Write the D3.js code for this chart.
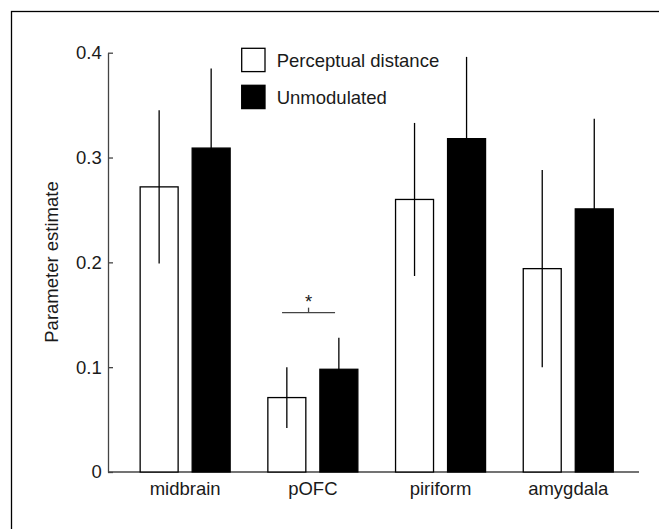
<!DOCTYPE html>
<html>
<head>
<meta charset="utf-8">
<script src="https://cdn.jsdelivr.net/npm/d3@7"></script>
<style>
  body{margin:0;background:#fff}
  text{font-family:"Liberation Sans",Arial,sans-serif;fill:#1a1a1a}
</style>
</head>
<body>
<svg id="chart" width="659" height="529"></svg>
<script>
// values
const categories = ['midbrain', 'pOFC', 'piriform', 'amygdala']
const seriesNames = ['Perceptual distance', 'Unmodulated']
const perceptual = [0.272, 0.071, 0.260, 0.194]
const perceptualErr = [0.073, 0.029, 0.073, 0.094]
const unmodulated = [0.309, 0.098, 0.318, 0.251]
const unmodulatedErr = [0.076, 0.030, 0.078, 0.086]
const yTicks = [0, 0.1, 0.2, 0.3, 0.4]
const sigCategory = 'pOFC'
const sigLevel = 0.152

const svg = d3.select('#chart')
const fs = 18.5

// frame (only top and left edges fall inside the picture)
svg.append('rect')
  .attr('x', 11.5).attr('y', 11.5)
  .attr('width', 700).attr('height', 600)
  .attr('fill', 'none').attr('stroke', '#000').attr('stroke-width', 1.3)

const y = d3.scaleLinear().domain([0, 0.4]).range([472, 52.7])
const x = d3.scaleBand().domain(categories).range([121.3, 632.1])
const xs = d3.scaleBand().domain(seriesNames).range([-45, 45]).paddingInner(0.27)

const rows = categories.map((c, i) => ({
  cat: c,
  vals: [
    {s: seriesNames[0], v: perceptual[i], e: perceptualErr[i]},
    {s: seriesNames[1], v: unmodulated[i], e: unmodulatedErr[i]}
  ]
}))

// y axis
const yAxis = svg.append('g')
  .attr('transform', 'translate(108,0)')
  .call(d3.axisLeft(y).tickValues(yTicks)
    .tickFormat(d => d === 0 ? '0' : d.toFixed(1))
    .tickSizeInner(-5).tickSizeOuter(0).tickPadding(6.3))
yAxis.selectAll('path,line').attr('stroke', '#444').attr('stroke-width', 1.3)
yAxis.selectAll('text').attr('font-size', fs).attr('font-family', null)

// x axis
svg.append('line')
  .attr('x1', 108).attr('x2', 639).attr('y1', 472).attr('y2', 472)
  .attr('stroke', '#444').attr('stroke-width', 1.5)
const xAxis = svg.append('g')
  .attr('transform', 'translate(0,472)')
  .call(d3.axisBottom(x).tickSize(0).tickPadding(10))
xAxis.select('.domain').remove()
xAxis.selectAll('text').attr('font-size', fs).attr('font-family', null)

svg.append('text')
  .attr('transform', 'translate(58,262) rotate(-90)')
  .attr('text-anchor', 'middle')
  .attr('font-size', fs)
  .text('Parameter estimate')

// bars
const groups = svg.append('g').selectAll('g')
  .data(rows).enter().append('g')
  .attr('transform', d => 'translate(' + (x(d.cat) + x.bandwidth() / 2) + ',0)')

groups.selectAll('rect')
  .data(d => d.vals).enter().append('rect')
  .attr('x', d => xs(d.s))
  .attr('width', xs.bandwidth())
  .attr('y', d => y(d.v))
  .attr('height', d => y(0) - y(d.v))
  .attr('fill', (d, i) => i === 0 ? '#fff' : '#000')
  .attr('stroke', '#000').attr('stroke-width', 1.3)

groups.selectAll('line.err')
  .data(d => d.vals).enter().append('line')
  .attr('class', 'err')
  .attr('x1', d => xs(d.s) + xs.bandwidth() / 2)
  .attr('x2', d => xs(d.s) + xs.bandwidth() / 2)
  .attr('y1', d => y(d.v - d.e))
  .attr('y2', d => y(d.v + d.e))
  .attr('stroke', '#000').attr('stroke-width', 1.3)

// significance bracket
const sx = x(sigCategory) + x.bandwidth() / 2 - 4.3
const sig = svg.append('g').attr('transform', 'translate(' + sx + ',' + y(sigLevel) + ')')
sig.append('line').attr('x1', -26.5).attr('x2', 26.5)
  .attr('stroke', '#444').attr('stroke-width', 1.3)
sig.append('line').attr('y1', 0).attr('y2', -5)
  .attr('stroke', '#444').attr('stroke-width', 1.3)
sig.append('text').attr('y', -4.5).attr('text-anchor', 'middle')
  .attr('font-size', fs).text('*')

// legend
const legend = svg.append('g').attr('transform', 'translate(241.7,48.3)')
const li = legend.selectAll('g').data(seriesNames).enter().append('g')
  .attr('transform', (d, i) => 'translate(0,' + i * 37 + ')')
li.append('rect')
  .attr('width', 23.3).attr('height', 23.3)
  .attr('fill', (d, i) => i === 0 ? '#fff' : '#000')
  .attr('stroke', '#000').attr('stroke-width', 1.3)
li.append('text')
  .attr('x', 35).attr('y', 18.5)
  .attr('font-size', fs)
  .text(d => d)
</script>
</body>
</html>
